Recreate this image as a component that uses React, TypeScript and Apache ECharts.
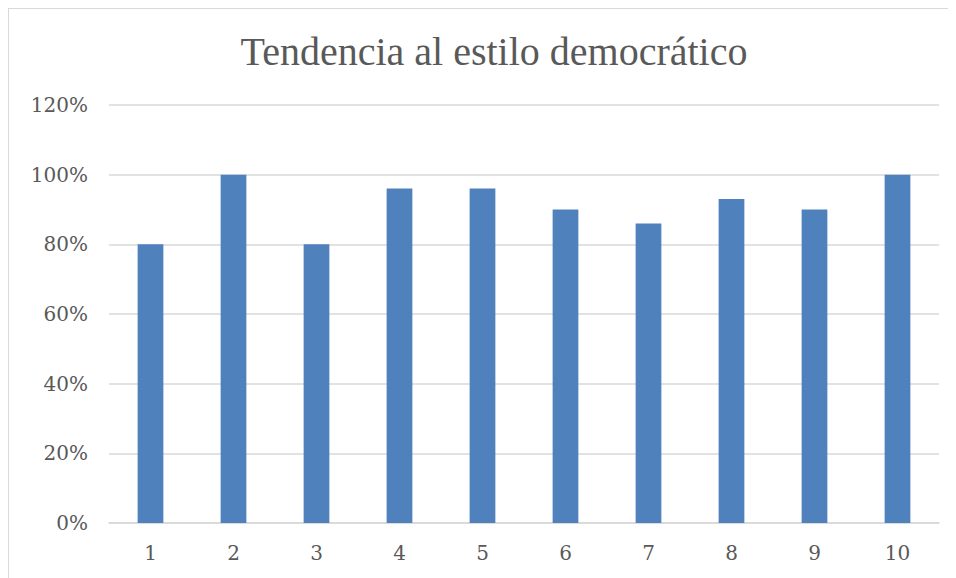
import React, { useEffect, useRef } from "react";
import * as echarts from "echarts";

const titleText = "Tendencia al estilo democrático";
const categories = ["1", "2", "3", "4", "5", "6", "7", "8", "9", "10"];
const values = [80, 100, 80, 96, 96, 90, 86, 93, 90, 100];
const yTicks = { min: 0, max: 120, interval: 20 };

export default function App() {
  const ref = useRef<HTMLDivElement>(null);
  useEffect(() => {
    if (!ref.current) return;
    const chart = echarts.init(ref.current, null, { renderer: "svg" });
    chart.setOption({
      animation: false,
      backgroundColor: "#ffffff",
      title: {
        text: titleText,
        left: 480,
        top: 17,
        textAlign: "center",
        textStyle: {
          fontFamily: "Liberation Serif",
          fontWeight: "normal",
          fontSize: 40,
          color: "#595959",
        },
      },
      grid: { left: 100, right: 17, top: 96, bottom: 55, containLabel: false },
      xAxis: {
        type: "category",
        data: categories,
        axisTick: { show: false },
        axisLine: { lineStyle: { color: "#d9d9d9", width: 1.5 } },
        axisLabel: {
          color: "#595959",
          fontFamily: "DejaVu Serif",
          fontSize: 20,
          margin: 20,
        },
      },
      yAxis: {
        type: "value",
        min: yTicks.min,
        max: yTicks.max,
        interval: yTicks.interval,
        axisLine: { show: false },
        axisTick: { show: false },
        splitLine: { lineStyle: { color: "#d9d9d9", width: 1.5 } },
        axisLabel: {
          formatter: "{value}%",
          color: "#595959",
          fontFamily: "DejaVu Serif",
          fontSize: 20,
          margin: 21,
        },
      },
      series: [
        {
          type: "bar",
          data: values,
          barWidth: "31%",
          itemStyle: { color: "#4F81BD" },
        },
      ],
    });
    return () => chart.dispose();
  }, []);
  return (
    <div
      style={{
        width: 948,
        height: 570,
        boxSizing: "border-box",
        borderLeft: "1px solid #d9d9d9",
        borderTop: "1px solid #d9d9d9",
      }}
    >
      <div ref={ref} style={{ width: 947, height: 569 }} />
    </div>
  );
}
